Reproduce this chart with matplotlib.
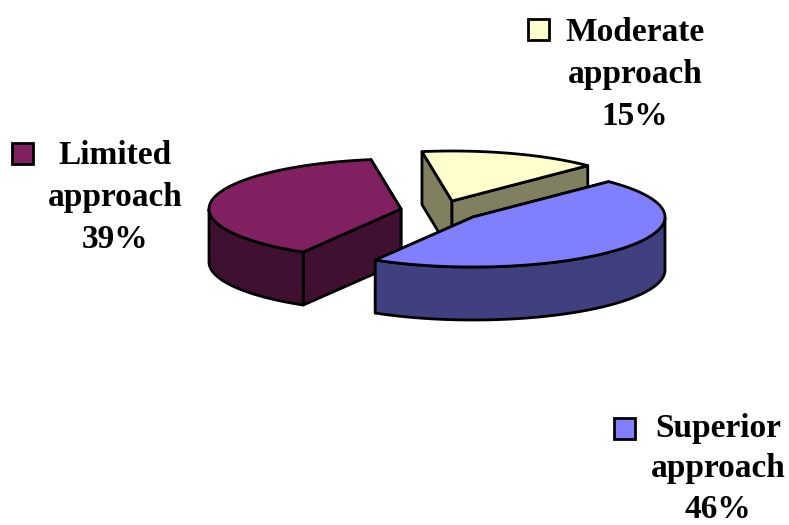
import numpy as np
import matplotlib
matplotlib.use('Agg')
import matplotlib.pyplot as plt
from matplotlib.patches import Polygon, Rectangle

# data, clockwise from the first slice
categorias = ['Superior\napproach', 'Limited\napproach', 'Moderate\napproach']
valores = [46, 39, 15]
cor_topo = ['#8080FF', '#802060', '#FFFFCC']
cor_lado = ['#404080', '#401030', '#808060']

# layout in reference pixels
centros = [(473, 217), (401, 209), (452, 201)]
caixas = [(614, 418), (12, 143), (528, 19)]
textos = [(718, 469), (115, 197.5), (635, 74.5)]
entrelinhas = [1.38, 1.44, 1.44]  # lower block tighter so it stays in the figure
ordem = [2, 1, 0]  # back to front
raio_x = 192
raio_y = 50
altura = 53
ang_ini = 45.0

fig = plt.figure(figsize=(7.89, 5.25), dpi=100)
ax = fig.add_axes([0, 0, 1, 1])
ax.set_xlim(0, 789)
ax.set_ylim(525, 0)
ax.axis('off')


def ponto(c, ang):
    return (c[0] + raio_x * np.cos(np.radians(ang)),
            c[1] - raio_y * np.sin(np.radians(ang)))


def face(pts, cor, z):
    ax.add_patch(Polygon(pts, closed=True, facecolor=cor, edgecolor='black',
                         linewidth=2.0, joinstyle='round', zorder=z))


def desce(pts):
    return [(x, y + altura) for x, y in pts[::-1]]


# angles of each slice from the values
fim = ang_ini - 3.6 * np.cumsum(valores)
ini = np.concatenate(([ang_ini], fim[:-1]))

for z, i in enumerate(ordem):
    c = centros[i]
    a0, a1 = ini[i], fim[i]
    base = z * 10 + 1

    # straight cut faces, the lower one last
    cortes = sorted([a0, a1], key=lambda a: ponto(c, a)[1])
    for k, a in enumerate(cortes):
        borda = [c, ponto(c, a)]
        face(borda + desce(borda), cor_lado[i], base + k)

    # rim, only where it faces the viewer (180 to 360 deg)
    angs = np.linspace(a0, a1, 200)
    frente = angs[np.sin(np.radians(angs)) <= 0]
    if len(frente) > 1:
        aro = [ponto(c, a) for a in frente]
        face(aro + desce(aro), cor_lado[i], base + 2)

    # top
    face([c] + [ponto(c, a) for a in angs], cor_topo[i], base + 3)

for i in range(len(valores)):
    x, y = caixas[i]
    ax.add_patch(Rectangle((x, y), 21, 21, facecolor=cor_topo[i],
                           edgecolor='black', linewidth=2.0, zorder=50))
    ax.text(textos[i][0], textos[i][1],
            categorias[i] + '\n' + str(valores[i]) + '%',
            ha='center', va='center', multialignment='center',
            family='Liberation Serif', fontweight='bold', fontsize=24,
            linespacing=entrelinhas[i], color='black', zorder=51)

plt.savefig('out.png', dpi=100)
plt.close()
